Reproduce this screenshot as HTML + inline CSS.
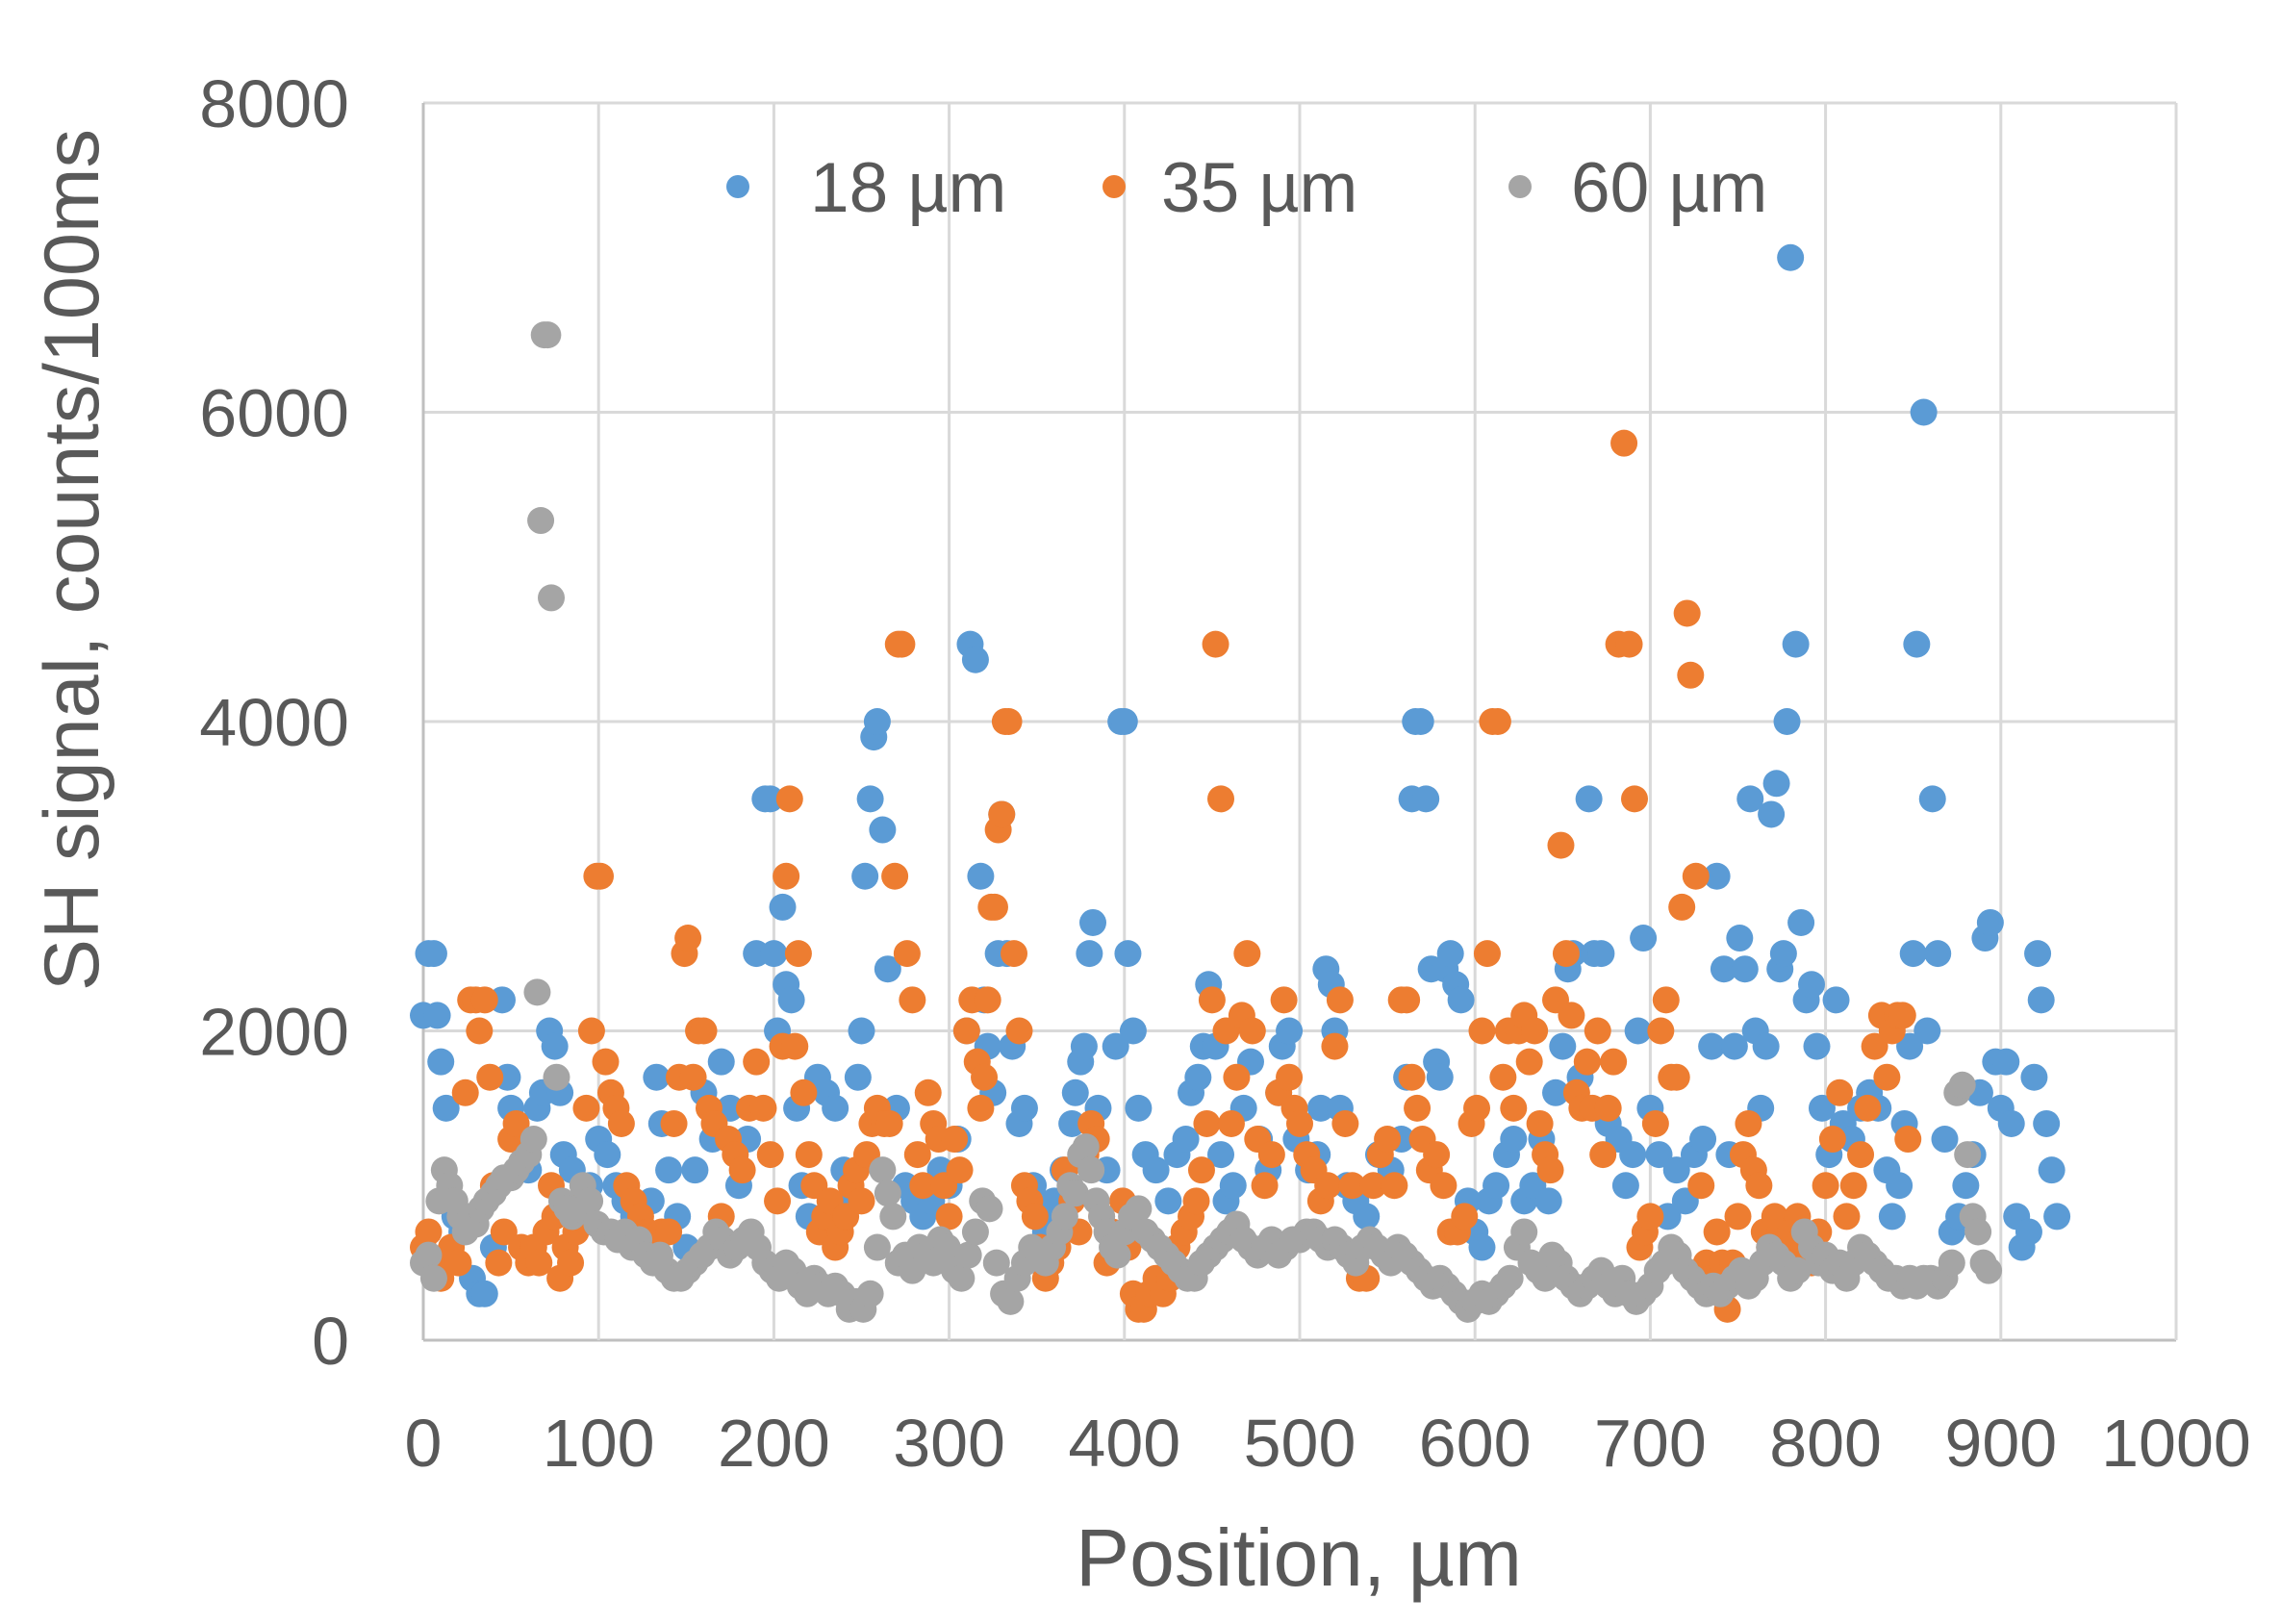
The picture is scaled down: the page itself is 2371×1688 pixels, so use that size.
<!DOCTYPE html>
<html><head><meta charset="utf-8"><style>
html,body{margin:0;padding:0;background:#fff;}
svg{display:block;font-family:"Liberation Sans",sans-serif;}
</style></head><body>
<svg id="chart" width="2371" height="1688" viewBox="0 0 2371 1688" xmlns="http://www.w3.org/2000/svg">
<rect x="0" y="0" width="2371" height="1688" fill="#fff"/>
<g id="grid"></g>
<g id="ylabels"></g>
<g id="xlabels"></g>
<g id="marks"></g>
<text x="0" y="0" transform="translate(102,582) rotate(-90)" text-anchor="middle" font-size="81" fill="#595959">SH signal, counts/100ms</text>
<text x="1350" y="1648" text-anchor="middle" font-size="84" fill="#595959">Position, µm</text>
<g>
<g><circle cx="767" cy="194" r="12" fill="#5b9bd5"/><text x="842" y="220" font-size="73" fill="#595959">18 µm</text></g>
<g><circle cx="1158" cy="194" r="12" fill="#ed7d31"/><text x="1207" y="220" font-size="73" fill="#595959">35 µm</text></g>
<g><circle cx="1580" cy="194" r="12" fill="#a5a5a5"/><text x="1633" y="220" font-size="73" fill="#595959">60 µm</text></g>
</g>
</svg>
<script>
const xTicks=[0,100,200,300,400,500,600,700,800,900,1000];
const yTicks=[0,2000,4000,6000,8000];
const s18=[[0,2100],[3,2500],[6,2500],[8,2100],[10,1800],[13,1500],[18,800],[22,700],[28,400],[32,300],[35,300],[40,600],[45,2200],[48,1700],[50,1500],[55,1300],[60,1100],[65,1500],[68,1600],[72,2000],[75,1900],[78,1600],[80,1200],[85,1100],[90,900],[95,1000],[100,1300],[105,1200],[110,1000],[115,900],[120,800],[125,700],[130,900],[133,1700],[136,1400],[140,1100],[145,800],[150,600],[155,1100],[160,1600],[165,1300],[170,1800],[175,1500],[180,1000],[185,1300],[190,2500],[195,3500],[198,3500],[200,2500],[202,2000],[205,2800],[207,2300],[210,2200],[213,1500],[216,1000],[220,800],[225,1700],[230,1600],[235,1500],[240,1100],[245,900],[248,1700],[250,2000],[252,3000],[255,3500],[257,3900],[259,4000],[262,3300],[265,2400],[270,1500],[275,1000],[280,900],[285,800],[290,900],[295,1100],[300,1000],[305,1300],[310,2000],[312,4500],[315,4400],[318,3000],[320,2200],[322,1900],[325,1600],[328,2500],[330,3400],[333,2500],[336,1900],[340,1400],[343,1500],[348,1000],[352,800],[355,700],[360,900],[365,1100],[370,1400],[372,1600],[375,1800],[377,1900],[380,2500],[382,2700],[385,1500],[390,1100],[395,1900],[398,4000],[400,4000],[402,2500],[405,2000],[408,1500],[412,1200],[418,1100],[425,900],[430,1200],[435,1300],[438,1600],[442,1700],[445,1900],[448,2300],[452,1900],[455,1200],[458,900],[462,1000],[468,1500],[472,1800],[477,1300],[482,1100],[488,1600],[490,1900],[494,2000],[498,1300],[505,1100],[510,1200],[512,1500],[515,2400],[518,2300],[520,2000],[523,1500],[527,1000],[532,900],[538,800],[545,1200],[552,1100],[558,1300],[561,1700],[564,3500],[566,4000],[569,4000],[572,3500],[575,2400],[578,1800],[580,1700],[583,2400],[586,2500],[589,2300],[592,2200],[596,900],[600,700],[604,600],[608,900],[612,1000],[618,1200],[622,1300],[628,900],[633,1000],[638,1300],[642,900],[646,1600],[650,1900],[653,2400],[656,2500],[660,1700],[665,3500],[668,2500],[672,2500],[676,1400],[682,1300],[686,1000],[690,1200],[693,2000],[696,2600],[700,1500],[705,1200],[710,800],[715,1100],[720,900],[725,1200],[730,1300],[735,1900],[738,3000],[742,2400],[745,1200],[748,1900],[751,2600],[754,2400],[757,3500],[760,2000],[763,1500],[766,1900],[769,3400],[772,3600],[774,2400],[776,2500],[778,4000],[780,7000],[783,4500],[786,2700],[789,2200],[792,2300],[795,1900],[798,1500],[802,1200],[806,2200],[810,1400],[815,1300],[820,1500],[825,1600],[830,1500],[835,1100],[838,800],[842,1000],[845,1400],[848,1900],[850,2500],[852,4500],[856,6000],[858,2000],[861,3500],[864,2500],[868,1300],[872,700],[876,800],[880,1000],[884,1200],[888,1600],[891,2600],[894,2700],[897,1800],[900,1500],[903,1800],[906,1400],[909,800],[912,600],[916,700],[919,1700],[921,2500],[923,2200],[926,1400],[929,1100],[932,800]];
const s35=[[0,600],[3,700],[6,500],[10,400],[13,500],[16,600],[20,500],[24,1600],[27,2200],[30,2200],[32,2000],[35,2200],[38,1700],[40,1000],[43,500],[46,700],[50,1300],[53,1400],[56,600],[60,500],[63,600],[66,500],[70,700],[73,1000],[75,800],[78,400],[81,600],[84,500],[87,700],[90,900],[93,1500],[96,2000],[99,3000],[101,3000],[104,1800],[107,1600],[110,1500],[113,1400],[116,1000],[120,900],[124,800],[128,700],[132,600],[136,700],[140,700],[143,1400],[146,1700],[149,2500],[151,2600],[154,1700],[157,2000],[160,2000],[163,1500],[166,1400],[170,800],[174,1300],[178,1200],[182,1100],[186,1500],[190,1800],[194,1500],[198,1200],[202,900],[205,1900],[207,3000],[209,3500],[212,1900],[214,2500],[217,1600],[220,1200],[223,1000],[226,700],[229,800],[232,900],[235,600],[238,700],[241,800],[244,1000],[247,1100],[250,900],[253,1200],[256,1400],[259,1500],[263,1400],[266,1400],[269,3000],[271,4500],[273,4500],[276,2500],[279,2200],[282,1200],[285,1000],[288,1600],[291,1400],[294,1300],[297,1000],[300,800],[303,1300],[306,1100],[310,2000],[313,2200],[316,1800],[318,1500],[320,1700],[322,2200],[324,2800],[326,2800],[328,3300],[330,3400],[332,4000],[334,4000],[337,2500],[340,2000],[343,1000],[346,900],[349,800],[352,600],[355,400],[358,500],[362,600],[366,1100],[370,900],[374,700],[378,1200],[381,1400],[384,1300],[387,800],[390,500],[393,700],[396,600],[399,900],[402,600],[405,300],[408,200],[411,200],[414,300],[418,400],[422,300],[426,400],[430,600],[434,700],[438,800],[441,900],[444,1100],[447,1400],[450,2200],[452,4500],[455,3500],[458,2000],[461,1400],[464,1700],[467,2100],[470,2500],[473,2000],[476,1300],[480,1000],[484,1200],[488,1600],[491,2200],[494,1700],[497,1500],[500,1400],[504,1200],[508,1100],[512,900],[516,1000],[520,1900],[523,2200],[526,1400],[530,1000],[534,400],[538,400],[542,1000],[546,1200],[550,1300],[554,1000],[558,2200],[561,2200],[564,1700],[567,1500],[570,1300],[574,1100],[578,1200],[582,1000],[586,700],[590,700],[594,800],[598,1400],[601,1500],[604,2000],[607,2500],[610,4000],[613,4000],[616,1700],[619,2000],[622,1500],[625,2000],[628,2100],[631,1800],[634,2000],[637,1400],[640,1200],[643,1100],[646,2200],[649,3200],[652,2500],[655,2100],[658,1600],[661,1500],[664,1800],[667,1500],[670,2000],[673,1200],[676,1500],[679,1800],[682,4500],[685,5800],[688,4500],[691,3500],[694,600],[697,700],[700,800],[703,1400],[706,2000],[709,2200],[712,1700],[715,1700],[718,2800],[721,4700],[723,4300],[726,3000],[729,1000],[732,500],[735,400],[738,700],[741,500],[744,200],[747,500],[750,800],[753,1200],[756,1400],[759,1100],[762,1000],[765,700],[768,600],[771,800],[774,700],[777,600],[780,700],[784,800],[788,600],[792,500],[796,700],[800,1000],[804,1300],[808,1600],[812,800],[816,1000],[820,1200],[824,1500],[828,1900],[832,2100],[835,1700],[838,2000],[841,2100],[844,2100],[847,1300]];
const s60=[[0,500],[3,550],[6,400],[9,900],[12,1100],[15,1000],[18,900],[21,800],[24,700],[27,800],[30,750],[33,850],[36,900],[40,950],[43,1000],[46,1050],[50,1050],[53,1100],[56,1150],[60,1200],[63,1300],[65,2250],[67,5300],[69,6500],[71,6500],[73,4800],[76,1700],[79,900],[82,850],[85,800],[88,850],[91,1000],[95,900],[99,750],[103,700],[107,700],[111,650],[115,700],[119,600],[123,650],[127,550],[131,500],[135,550],[139,450],[143,400],[147,400],[151,450],[155,500],[159,550],[163,600],[167,700],[171,650],[175,550],[179,600],[183,650],[187,700],[191,600],[195,500],[199,450],[203,400],[207,500],[211,450],[215,350],[219,300],[223,400],[227,350],[231,300],[235,350],[239,300],[243,200],[247,250],[251,200],[255,300],[259,600],[262,1100],[265,950],[268,800],[271,500],[275,550],[279,450],[283,600],[287,550],[291,500],[295,650],[299,600],[303,450],[307,400],[311,550],[315,700],[319,900],[323,850],[327,500],[331,300],[335,250],[339,400],[343,500],[347,600],[351,550],[355,500],[359,600],[363,700],[366,800],[369,1000],[372,950],[375,1200],[378,1250],[381,1100],[384,900],[387,800],[390,700],[393,600],[396,550],[400,700],[404,800],[408,850],[412,700],[416,650],[420,600],[424,550],[428,500],[432,450],[436,400],[440,400],[444,500],[448,550],[452,600],[456,650],[460,700],[464,750],[468,650],[472,600],[476,550],[480,600],[484,650],[488,550],[492,600],[496,650],[500,650],[504,700],[508,700],[512,650],[516,600],[520,650],[524,600],[528,550],[532,500],[536,600],[540,650],[544,600],[548,550],[552,500],[556,600],[560,550],[564,500],[568,450],[572,400],[576,350],[580,400],[584,350],[588,300],[592,250],[596,200],[600,250],[604,300],[608,250],[612,300],[616,350],[620,400],[624,600],[628,700],[632,500],[636,450],[640,400],[644,550],[648,500],[652,400],[656,350],[660,300],[664,350],[668,400],[672,450],[676,350],[680,300],[684,400],[688,300],[692,250],[696,300],[700,350],[704,450],[708,500],[712,600],[716,550],[720,450],[724,400],[728,350],[732,300],[736,350],[740,300],[744,350],[748,400],[752,450],[756,350],[760,400],[764,500],[768,600],[772,550],[776,500],[780,400],[784,450],[788,700],[792,600],[796,500],[800,550],[804,450],[808,500],[812,400],[816,500],[820,600],[824,550],[828,500],[832,450],[836,400],[840,400],[844,350],[848,400],[852,350],[856,400],[860,400],[864,350],[868,400],[872,500],[875,1600],[878,1650],[881,1200],[884,800],[887,700],[890,500],[893,450]];

const NS='http://www.w3.org/2000/svg';
const L=440,R=2262,T=107,B=1393;
function sx(v){return L+(v-0)/(1000-0)*(R-L);}
function sy(v){return B-(v-0)/(8000-0)*(B-T);}
const grid=document.getElementById('grid');
const ylab=document.getElementById('ylabels');
const xlab=document.getElementById('xlabels');
const marks=document.getElementById('marks');
function mk(tag,attrs,parent){const e=document.createElementNS(NS,tag);for(const k in attrs)e.setAttribute(k,attrs[k]);parent.appendChild(e);return e;}
yTicks.forEach(t=>{
  const ln=mk('line',{x1:L,x2:R,y1:sy(t),y2:sy(t),stroke:t===0?'#bfbfbf':'#d9d9d9','stroke-width':3},grid);
  
  
  const tx=mk('text',{x:363,y:sy(t)+25,'text-anchor':'end','font-size':70,fill:'#595959'},ylab);
  tx.textContent=t;
  
  
});
xTicks.forEach(t=>{
  const ln=mk('line',{x1:sx(t),x2:sx(t),y1:T,y2:B,stroke:t===0?'#bfbfbf':'#d9d9d9','stroke-width':3},grid);
  
  
  const tx=mk('text',{x:sx(t),y:1524,'text-anchor':'middle','font-size':70,fill:'#595959'},xlab);
  tx.textContent=t;
  
  
});
function series(data,color,name){
  const g=mk('g',{},marks);
  
  
  data.forEach(p=>{
    const c=mk('circle',{cx:sx(p[0]),cy:sy(p[1]),r:14,fill:color},g);
    
    
  });
}
series(s18,'#5b9bd5','series-18um');
series(s35,'#ed7d31','series-35um');
series(s60,'#a5a5a5','series-60um');
</script>
</body></html>
